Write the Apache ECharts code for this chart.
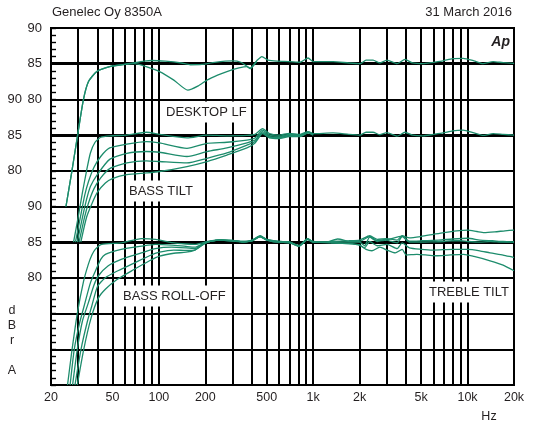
<!DOCTYPE html>
<html><head><meta charset="utf-8">
<script src="https://cdn.jsdelivr.net/npm/echarts@6/dist/echarts.min.js"></script>
<style>html,body{margin:0;padding:0;background:#fff}#c{width:536px;height:426px}</style>
</head><body><div id="c"></div>
<script>
// ---- tick labels ----
const xTickValues = [20, 50, 100, 200, 500, 1000, 2000, 5000, 10000, 20000];
const vGridFreqs = [30,40,50,60,70,80,90,100,200,300,400,500,600,700,800,900,1000,2000,3000,4000,5000,6000,7000,8000,9000,10000];
const thickLevels = [85, 75, 60];
const yRightValues = [90, 85, 80, 65, 60, 55];
const yRightTexts  = ['90','85','80','90','85','80'];
const yLeftValues  = [80, 75, 70];
const yLeftTexts   = ['90','85','80'];

// ---- series data: [Hz, dB on the shared plot scale] ----
const desktopFlat = [[25,65],[27.2,69.7],[29.4,74.3],[32.4,79.9],[35,82.5],[39.6,83.9],[48,84.6],[60,84.9],[68,85.1],[80,85.35],[90,85.45],[110,85.35],[140,85.1],[160,84.85],[190,84.9],[230,85.2],[300,85.4],[340,85.2],[390,84.4],[430,85.4],[465,86.0],[510,85.5],[584,85.35],[700,85.3],[822,85.2],[927,85.8],[1000,85.3],[1345,85.3],[1700,85.1],[2012,85.0],[2200,85.5],[2442,85.5],[2700,85.1],[3000,85.5],[3494,85.0],[3937,85.6],[4400,85.1],[5151,85.0],[6000,85.2],[6935,85.4],[8000,85.7],[9355,85.75],[11000,85.4],[12600,85.0],[14660,85.3],[17000,85.15],[20000,85.05]];
const desktopDip = [[25,65],[27.2,69.7],[29.4,74.3],[32.4,79.9],[35,82.5],[39.6,83.9],[48,84.6],[60,84.9],[70,85.0],[80,84.7],[101,83.9],[125,82.7],[154,81.3],[180,81.9],[205,82.7],[240,83.4],[276,83.9],[330,84.4],[372,84.6],[390,84.3],[430,85.3]];

const bassTilt1 = [[28,60],[30,63.5],[32,67],[34,70],[36,72.5],[38.6,74],[42,74.7],[48,74.9],[62,75],[83,75.4],[101,75.1],[152,74.6],[205,75],[276,74.9],[372,74.95],[420,75.1],[470,75.9],[520,75.2],[600,75.0],[700,75.25],[822,75.1],[927,75.5],[1000,75.2],[1345,75.3],[1700,75.1],[2012,75.0],[2200,75.4],[2442,75.4],[2700,75.05],[3000,75.35],[3494,74.85],[3937,75.4],[4400,75.0],[5151,74.9],[6000,75.1],[6935,75.3],[8000,75.6],[9355,75.7],[11000,75.3],[12600,74.95],[14660,75.2],[17000,75.1],[20000,75.0]];
const bassTilt2 = [[28.8,60],[31,63.5],[33,66.5],[35,68.5],[38,70.5],[42,72],[48,73.2],[62,73.75],[83,74.1],[101,73.9],[152,73.15],[205,73.85],[276,74.0],[372,74.3],[420,74.6],[470,75.7],[520,75.0],[600,74.85],[700,75.1],[822,75.0],[927,75.45],[1000,75.15]];
const bassTilt3 = [[29.6,60],[32,63.5],[34,66],[36,67.8],[40,69.5],[48,71.6],[62,72.45],[83,72.7],[101,72.6],[152,72.0],[205,72.7],[276,73.2],[372,73.9],[420,74.3],[470,75.5],[520,74.8],[600,74.7],[700,75.0],[822,74.9],[927,75.4],[1000,75.1]];
const bassTilt4 = [[30.4,60],[33,63.5],[35,65.5],[38,67.5],[42,69],[48,70.3],[62,71.1],[83,71.4],[101,71.3],[152,71.1],[205,71.75],[276,72.5],[372,73.6],[420,74.1],[470,75.3],[520,74.7],[600,74.6],[700,74.9],[822,74.85],[927,75.35],[1000,75.05]];
const bassTilt5 = [[31.2,60],[34,63.5],[37,65.5],[40,67],[45,68.3],[50,68.9],[62,69.45],[83,69.7],[101,69.9],[152,70.6],[205,71.3],[276,72.2],[372,73.2],[420,73.9],[470,75.2],[520,74.6],[600,74.5],[700,74.8],[822,74.8],[927,75.3],[1000,75.0]];

const rollOff1 = [[25.6,40],[27.2,44.5],[29.6,50],[32.5,54.5],[34.9,56.9],[36.8,58.2],[38.7,59],[42.6,59.7],[57,59.9],[77,60.5],[95,60.4],[121,59.95],[150,59.75],[171,59.7],[207,60.1],[250,60.35],[300,60.25],[350,60.1],[400,60.2],[453,60.9],[500,60.4],[600,60.1],[700,60.0],[809,59.5],[920,60.5],[1000,60.05],[1200,60.0],[1440,60.45],[1700,60.1],[2000,60.0],[2150,59.5],[2325,60.7],[2600,60.1],[2900,60.4],[3200,60.1],[3500,59.9],[3770,60.8],[4200,60.0],[5000,60.0],[6000,60.05],[7000,60.1],[8000,60.2],[9000,60.2],[10000,60.1],[12000,60.0],[14000,60.1],[17000,60.0],[20000,60.0]];
const rollOff2 = [[26.6,40],[28.3,45],[30.5,48.5],[33.2,51.5],[36,54.3],[38.7,55.9],[42,57.6],[45,58.3],[57,59.0],[77,59.45],[95,59.7],[121,59.6],[150,59.4],[171,59.3],[194,59.8],[215,60.1],[250,60.3],[300,60.2],[350,60.05],[400,60.25],[453,60.8],[500,60.3],[600,60.0],[700,59.95],[809,59.4],[920,60.4],[1000,60.0],[1300,60.0]];
const rollOff3 = [[27.6,40],[29.6,45],[32,49],[34.9,51.5],[38,54],[40.6,55.3],[47,56.7],[57,57.6],[77,58.5],[95,59.1],[121,59.3],[150,59.2],[171,59.1],[194,59.8],[215,60.1],[250,60.3],[300,60.15],[350,60.0],[400,60.3],[453,60.85],[500,60.35],[600,60.05],[700,59.9],[809,59.55],[920,60.45],[1000,60.1],[1300,59.95]];
const rollOff4 = [[28.6,40],[31.3,45],[34.5,49],[36.7,51],[40,53.8],[44.8,55],[53,55.9],[68,57],[87,58.1],[101,58.6],[125,58.9],[150,58.85],[171,58.9],[194,59.7],[215,60.1],[250,60.3],[300,60.2],[350,60.05],[400,60.2],[453,60.75],[500,60.3],[600,60.0],[700,60.05],[809,59.45],[920,60.35],[1000,60.0],[1300,60.05]];
const rollOff5 = [[29.6,40],[32.6,45],[36.5,49.5],[40.6,52.2],[45,53.4],[53,54.7],[68,56.1],[87,57.4],[101,58.05],[125,58.45],[150,58.6],[171,58.9],[194,59.7],[215,60.1],[250,60.3],[300,60.25],[350,60.1],[400,60.15],[453,60.8],[500,60.35],[600,60.1],[700,60.0],[809,59.5],[920,60.5],[1000,60.05],[1300,59.9]];

const trebleUp2 = [[1300,60.1],[1700,60.2],[2000,60.3],[2325,60.9],[2600,60.4],[3000,60.5],[3500,60.3],[3770,60.9],[4200,60.6],[5000,60.8],[6000,61.1],[7000,61.35],[8500,61.6],[10000,61.7],[11500,61.5],[12800,61.35],[15000,61.45],[17500,61.6],[20000,61.7]];
const trebleUp1 = [[1300,60.0],[2000,60.1],[2325,60.8],[2600,60.2],[3000,60.3],[3770,60.85],[4200,60.15],[5000,60.2],[6500,60.3],[8000,60.45],[10000,60.55],[12000,60.3],[14500,60.2],[17000,60.1],[20000,60.05]];
const trebleDown1 = [[1300,59.9],[1700,59.8],[2000,59.6],[2150,59.2],[2325,60.1],[2600,59.5],[3000,59.7],[3500,59.1],[3770,59.9],[4200,59.2],[5000,59.0],[6000,58.9],[8000,59.0],[10000,59.0],[12000,58.8],[14000,58.5],[17000,58.2],[20000,57.85]];
const trebleDown2 = [[1300,59.9],[1700,59.8],[2000,59.6],[2200,59.0],[2400,58.8],[2700,59.3],[3000,58.9],[3400,58.5],[3770,59.0],[4000,58.2],[4700,58.3],[5500,58.2],[6300,58.1],[7500,58.2],[9400,58.3],[11000,58.0],[14000,57.4],[17000,56.8],[20000,56.0]];

// ---- rendering ----
const FONT = '"Liberation Sans", Arial, sans-serif';
const INK = '#231f20';
const GREEN = '#1d8c6c';
const curves = [desktopFlat, desktopDip, bassTilt1, bassTilt2, bassTilt3, bassTilt4, bassTilt5,
  rollOff1, rollOff2, rollOff3, rollOff4, rollOff5, trebleUp2, trebleUp1, trebleDown1, trebleDown2];

const series = curves.map(d => ({
  type: 'line', data: d, symbol: 'none', showSymbol: false, smooth: 0.2,
  lineStyle: { color: GREEN, width: 1.3 }, z: 5, silent: true, animation: false
}));
series.push({
  type: 'line', data: [], z: 1, silent: true, animation: false,
  markLine: {
    symbol: 'none', silent: true, animation: false, label: { show: false },
    lineStyle: { color: '#000', width: 2, type: 'solid' },
    data: vGridFreqs.map(f => ({ xAxis: f }))
  }
});
series.push({
  type: 'line', data: [], z: 2, silent: true, animation: false,
  markLine: {
    symbol: 'none', silent: true, animation: false, label: { show: false },
    lineStyle: { color: '#000', width: 3.2, type: 'solid' },
    data: thickLevels.map(v => ({ yAxis: v }))
  }
});

function lookup(vals, texts, v) {
  const i = vals.findIndex(x => Math.abs(x - v) < 1e-6);
  return i >= 0 ? texts[i] : '';
}
function fmtHz(v) {
  const r = Math.round(v);
  return r >= 1000 ? (r / 1000) + 'k' : String(r);
}

const labelBox = (text, x, y) => ({
  type: 'text', x: x, y: y, z: 20,
  style: { text: text, font: '13px ' + FONT, fill: INK, textAlign: 'left', textVerticalAlign: 'middle',
           backgroundColor: '#fff', padding: [4, 2] }
});

const option = {
  backgroundColor: '#fff',
  animation: false,
  grid: { left: 51, right: 22, top: 28, bottom: 41, show: true, borderColor: '#000', borderWidth: 2 },
  xAxis: {
    type: 'log', logBase: 10, min: 20, max: 20000,
    axisLine: { show: true, lineStyle: { color: '#000', width: 2 } },
    axisTick: { show: false }, splitLine: { show: false }, minorTick: { show: false },
    axisLabel: { customValues: xTickValues, formatter: fmtHz, color: INK, fontFamily: FONT, fontSize: 12.5, margin: 6 }
  },
  yAxis: [{
    type: 'value', min: 40, max: 90, interval: 5, position: 'left',
    axisLine: { show: true, lineStyle: { color: '#000', width: 2 } },
    axisTick: { show: false },
    splitLine: { show: true, lineStyle: { color: '#000', width: 2 } },
    axisLabel: { formatter: v => lookup(yRightValues, yRightTexts, v), margin: 9, color: INK, fontFamily: FONT, fontSize: 13 }
  }, {
    type: 'value', min: 40, max: 90, interval: 5, position: 'left', offset: 20,
    axisLine: { show: false }, axisTick: { show: false }, splitLine: { show: false },
    axisLabel: { formatter: v => lookup(yLeftValues, yLeftTexts, v), margin: 9, color: INK, fontFamily: FONT, fontSize: 13 }
  }, {
    type: 'value', min: 40, max: 90, interval: 1, position: 'left', offset: 0,
    axisLine: { show: false }, splitLine: { show: false }, axisLabel: { show: false },
    axisTick: { show: true, inside: true, length: 5, lineStyle: { color: '#000', width: 1.4 } }
  }],
  series: series,
  graphic: [
    { type: 'text', x: 52, y: 12, style: { text: 'Genelec Oy 8350A', font: '13px ' + FONT, fill: INK, textVerticalAlign: 'middle' } },
    { type: 'text', x: 512, y: 12, style: { text: '31 March 2016', font: '13px ' + FONT, fill: INK, textAlign: 'right', textVerticalAlign: 'middle' } },
    { type: 'text', x: 510, y: 42, z: 20, style: { text: 'Ap', font: 'italic bold 14px ' + FONT, fill: INK, textAlign: 'right', textVerticalAlign: 'middle' } },
    { type: 'text', x: 489, y: 417, style: { text: 'Hz', font: '12.5px ' + FONT, fill: INK, textAlign: 'center', textVerticalAlign: 'middle' } },
    { type: 'text', x: 12, y: 340.5, style: { text: 'd\nB\nr\n\nA', font: '12.5px ' + FONT, fill: INK, textAlign: 'center', textVerticalAlign: 'middle', lineHeight: 15 } },
    labelBox('DESKTOP LF', 164, 112),
    labelBox('BASS TILT', 127, 191),
    labelBox('BASS ROLL-OFF', 121, 296),
    labelBox('TREBLE TILT', 427, 292)
  ]
};
const chart = echarts.init(document.getElementById('c'), null, { renderer: 'canvas' });
chart.setOption(option);
</script>
</body></html>
